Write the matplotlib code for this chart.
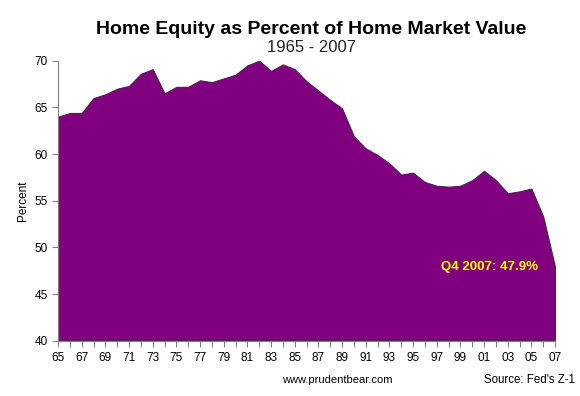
import matplotlib
matplotlib.use("Agg")
import matplotlib.pyplot as plt
from matplotlib.ticker import MultipleLocator, FuncFormatter

plt.rcParams['font.family'] = ['Liberation Sans', 'DejaVu Sans']

years = list(range(1965, 2008))
equity_pct = [64.0, 64.4, 64.4, 66.0, 66.4, 67.0, 67.3, 68.6, 69.1, 66.5,
              67.2, 67.2, 67.9, 67.7, 68.1, 68.5, 69.5, 70.0, 68.9, 69.6,
              69.1, 67.8, 66.8, 65.8, 64.9, 61.9, 60.6, 59.9, 59.0, 57.8,
              58.0, 57.0, 56.6, 56.5, 56.6, 57.2, 58.2, 57.2, 55.8, 56.0,
              56.3, 53.3, 47.9]
tick_years = years[::2]

title = "Home Equity as Percent of Home Market Value"
subtitle = "1965 - 2007"
ylabel = "Percent"
annotation = "Q4 2007: 47.9%"
footer_left = "www.prudentbear.com"
footer_right = "Source: Fed's Z-1"

fig = plt.figure(figsize=(5.8, 3.96), dpi=100)
ax = fig.add_axes([0.1, 0.1397, 0.857, 0.707])

ax.fill_between(years, equity_pct, 40, facecolor='#800080',
                edgecolor='#333333', linewidth=0.8)

ax.set_xlim(1965, 2007)
ax.set_ylim(40, 70)
ax.set_xticks(tick_years)
ax.xaxis.set_minor_locator(MultipleLocator(1))
ax.xaxis.set_major_formatter(FuncFormatter(lambda v, p: f"{int(round(v)) % 100:02d}"))
ax.yaxis.set_major_locator(MultipleLocator(5))

for s in ['top', 'right']:
    ax.spines[s].set_visible(False)
for s in ['left', 'bottom']:
    ax.spines[s].set_color('#808080')
    ax.spines[s].set_linewidth(0.8)

ax.tick_params(axis='both', which='both', colors='#808080', direction='out',
               labelcolor='black', labelsize=8.5)
ax.tick_params(axis='both', which='major', length=4, width=0.8)
ax.tick_params(axis='x', which='minor', length=4, width=0.8)
ax.tick_params(axis='x', pad=4)

ax.set_ylabel(ylabel, fontsize=8.5, labelpad=4)

fig.text(0.537, 0.925, title, ha='center', va='center', fontsize=14,
         fontweight='bold')
fig.text(0.537, 0.879, subtitle, ha='center', va='center', fontsize=12,
         color='#222222')

ax.text(2005.6, 47.9, annotation, ha='right', va='center', fontsize=9.5,
        fontweight='bold', color='#FFFF00')

fig.text(0.581, 0.040, footer_left, ha='center', va='center', fontsize=8)
fig.text(0.991, 0.040, footer_right, ha='right', va='center', fontsize=8.3)

fig.savefig('out.png', dpi=100)
